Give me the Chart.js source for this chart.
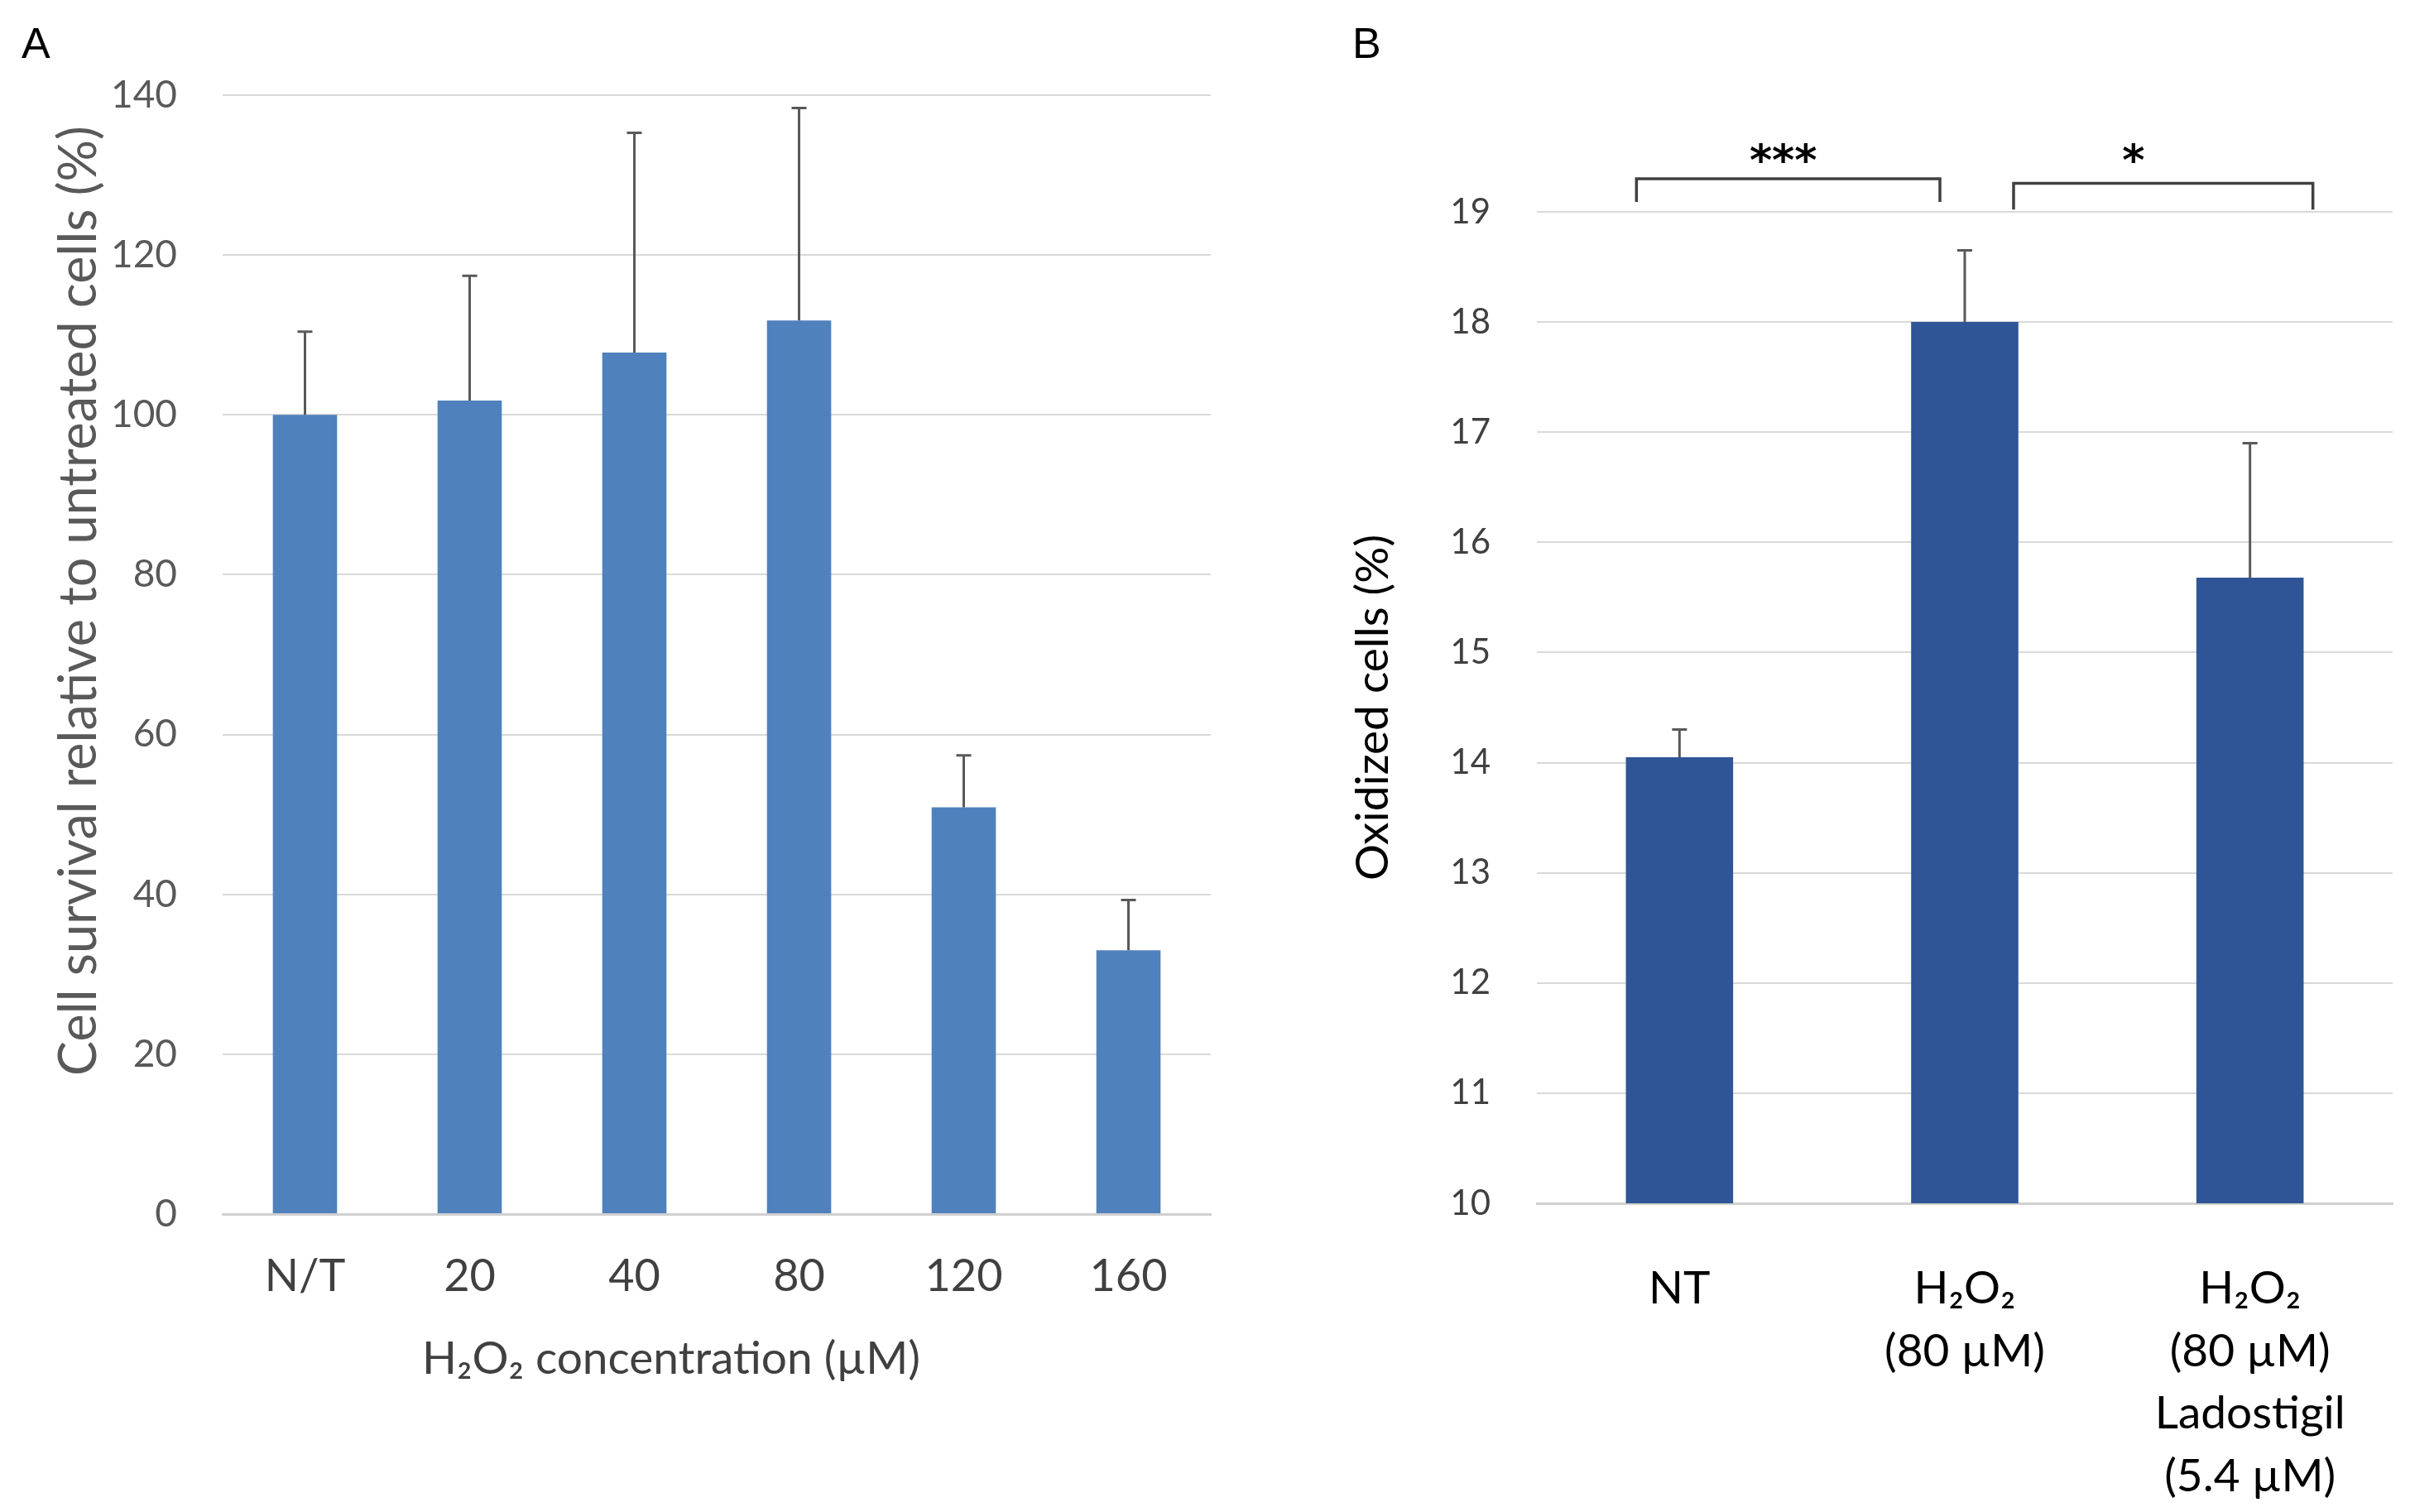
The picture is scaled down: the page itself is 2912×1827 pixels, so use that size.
<!DOCTYPE html>
<html>
<head>
<meta charset="utf-8">
<script src="https://cdn.jsdelivr.net/npm/chart.js@4"></script>
<style>
  body { margin: 0; background: #fff; width: 2912px; height: 1827px; position: relative; overflow: hidden; }
  .panel { position: absolute; top: 0; height: 1827px; }
  #wrapA { left: 0; width: 1520px; }
  #wrapB { left: 1540px; width: 1372px; }
  .letter { position: absolute; top: 26px; line-height: 1; font-family: "Liberation Sans", Arial, sans-serif; font-size: 52px; color: #000; }
</style>
</head>
<body>
<div class="letter" style="left: 26px;">A</div>
<div class="letter" style="left: 1634px;">B</div>
<div class="panel" id="wrapA"><canvas id="chartA" width="1520" height="1827"></canvas></div>
<div class="panel" id="wrapB"><canvas id="chartB" width="1372" height="1827"></canvas></div>
<script>
// panel A data
const concLabels = ['N/T', '20', '40', '80', '120', '160'];
const survival = [100, 101.8, 107.8, 111.8, 50.9, 33];
const survivalErr = [10.4, 15.6, 27.5, 26.6, 6.5, 6.3];

// panel B data
const groupLabels = ['NT', ['H₂O₂', '(80 µM)'], ['H₂O₂', '(80 µM)', 'Ladostigil', '(5.4 µM)']];
const oxidized = [14.05, 18.0, 15.68];
const oxidizedErr = [0.25, 0.65, 1.22];
const brackets = [
    { from: 0, to: 1, label: '***' },
    { from: 1, to: 2, label: '*' }
];

const fontFam = 'Lato, "Open Sans", sans-serif';

// draws the upper error bar of each bar
const errorBarPlugin = {
    id: 'errorBars',
    afterDatasetsDraw(chart) {
        const ctx = chart.ctx;
        const yScale = chart.scales.y;
        chart.data.datasets.forEach((ds, i) => {
            const meta = chart.getDatasetMeta(i);
            meta.data.forEach((bar, j) => {
                const top = yScale.getPixelForValue(ds.data[j] + ds.errorBars[j]);
                ctx.save();
                ctx.strokeStyle = '#595959';
                ctx.lineWidth = 3;
                ctx.beginPath();
                ctx.moveTo(bar.x, bar.y);
                ctx.lineTo(bar.x, top);
                ctx.moveTo(bar.x - 9, top);
                ctx.lineTo(bar.x + 9, top);
                ctx.stroke();
                ctx.restore();
            });
        });
    }
};

// significance brackets above panel B
const bracketPlugin = {
    id: 'brackets',
    afterDraw(chart, args, opts) {
        const ctx = chart.ctx;
        const x = chart.scales.x;
        const y = chart.scales.y;
        opts.items.forEach((b, i) => {
            const st = opts.styles[i];
            const x1 = x.getPixelForValue(b.from) + st.dl;
            const x2 = x.getPixelForValue(b.to) + st.dr;
            const yl = y.getPixelForValue(st.level);
            const yt = y.getPixelForValue(st.tip);
            ctx.save();
            ctx.strokeStyle = '#404040';
            ctx.lineWidth = 3.5;
            ctx.beginPath();
            ctx.moveTo(x1, yt);
            ctx.lineTo(x1, yl);
            ctx.lineTo(x2, yl);
            ctx.lineTo(x2, yt);
            ctx.stroke();
            ctx.fillStyle = '#000';
            ctx.font = 'bold 52px "DejaVu Sans", sans-serif';
            ctx.textAlign = 'center';
            ctx.textBaseline = 'alphabetic';
            ctx.fillText(b.label, (x1 + x2) / 2 + st.shift, y.getPixelForValue(19.55) + 0.55 * 52);
            ctx.restore();
        });
    }
};

new Chart(document.getElementById('chartA'), {
    type: 'bar',
    data: {
        labels: concLabels,
        datasets: [{
            data: survival,
            errorBars: survivalErr,
            backgroundColor: '#4F81BD',
            barPercentage: 0.39,
            categoryPercentage: 1
        }]
    },
    plugins: [errorBarPlugin],
    options: {
        responsive: false,
        animation: false,
        devicePixelRatio: 1,
        layout: { padding: { top: 115, right: 57, left: 0, bottom: 0 } },
        plugins: { legend: { display: false }, tooltip: { enabled: false } },
        scales: {
            x: {
                grid: { display: false },
                border: { display: true, color: '#d0d0d0', width: 3 },
                ticks: { color: '#404040', padding: 35, font: { family: fontFam, size: 54 } },
                title: {
                    display: true,
                    text: 'H₂O₂ concentration (µM)\u2003\u2003\u2002',
                    color: '#404040',
                    font: { family: fontFam, size: 55 },
                    padding: { top: 0, bottom: 152 }
                },
                afterFit: (s) => { s.height = 360; }
            },
            y: {
                min: 0,
                max: 140,
                ticks: { stepSize: 20, color: '#595959', padding: 55, font: { family: fontFam, size: 46 } },
                grid: { color: '#d9d9d9', lineWidth: 2, drawTicks: false },
                border: { display: false },
                title: {
                    display: true,
                    text: '\u2003\u2003\u2002\u200aCell survival relative to untreated cells (%)',
                    color: '#595959',
                    font: { family: fontFam, size: 63 },
                    padding: { top: 58, bottom: 0 }
                },
                afterFit: (s) => { s.width = 269; }
            }
        }
    }
});

new Chart(document.getElementById('chartB'), {
    type: 'bar',
    data: {
        labels: groupLabels,
        datasets: [{
            data: oxidized,
            errorBars: oxidizedErr,
            backgroundColor: '#2F5597',
            barPercentage: 0.376,
            categoryPercentage: 1
        }]
    },
    plugins: [errorBarPlugin, bracketPlugin],
    options: {
        responsive: false,
        animation: false,
        devicePixelRatio: 1,
        layout: { padding: { top: 256, right: 21, left: 0, bottom: 0 } },
        plugins: {
            legend: { display: false },
            tooltip: { enabled: false },
            brackets: {
                items: brackets,
                styles: [
                    { dl: -52, dr: -30, level: 19.3, tip: 19.09, shift: -6 },
                    { dl: 59, dr: 76, level: 19.26, tip: 19.02, shift: -36 }
                ]
            }
        },
        scales: {
            x: {
                grid: { display: false },
                border: { display: true, color: '#d0d0d0', width: 3 },
                ticks: { color: '#000', padding: 57, font: { family: fontFam, size: 55, lineHeight: 1.38 } },
                afterFit: (s) => { s.height = 373; }
            },
            y: {
                min: 10,
                max: 19,
                ticks: { stepSize: 1, color: '#404040', padding: 56, font: { family: fontFam, size: 42 } },
                grid: { color: '#d9d9d9', lineWidth: 2, drawTicks: false },
                border: { display: false },
                title: {
                    display: true,
                    text: 'Oxidized cells (%)',
                    color: '#000',
                    font: { family: fontFam, size: 55 },
                    padding: { top: 86, bottom: 0 }
                },
                afterFit: (s) => { s.width = 317; }
            }
        }
    }
});
</script>
</body>
</html>
